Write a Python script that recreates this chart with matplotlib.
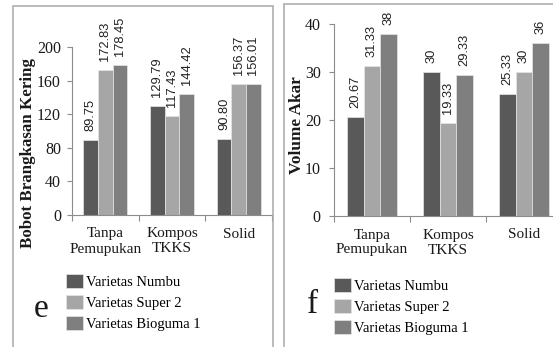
import numpy as np
import matplotlib.pyplot as plt
from matplotlib.patches import Rectangle

# Data: dry shoot weight (e) and root volume (f)
categories = ["Tanpa\nPemupukan", "Kompos\nTKKS", "Solid"]
varieties = ["Varietas Numbu", "Varietas Super 2", "Varietas Bioguma 1"]
colors = ["#595959", "#a6a6a6", "#7f7f7f"]

bobot_numbu = [89.75, 129.79, 90.80]
bobot_super2 = [172.83, 117.43, 156.37]
bobot_bioguma = [178.45, 144.42, 156.01]
bobot_labels = [["89.75", "129.79", "90.80"],
                 ["172.83", "117.43", "156.37"],
                 ["178.45", "144.42", "156.01"]]

volume_numbu = [20.67, 30, 25.33]
volume_super2 = [31.33, 19.33, 30]
volume_bioguma = [38, 29.33, 36]
volume_labels = [["20.67", "30", "25.33"],
                 ["31.33", "19.33", "30"],
                 ["38", "29.33", "36"]]

W, H = 553, 347
serif = ["Liberation Serif", "DejaVu Serif"]
sans = ["Liberation Sans", "DejaVu Sans"]

fig = plt.figure(figsize=(W / 100, H / 100), dpi=100)


def px_rect(x0, y_top, x1, y_bottom):
    # pixel box -> figure fraction [left, bottom, width, height]
    return [x0 / W, 1 - y_bottom / H, (x1 - x0) / W, (y_bottom - y_top) / H]


def draw_panel(rect, series, labels, ymax, ystep, ypad):
    ax = fig.add_axes(rect)
    x = np.arange(len(categories))
    bw = 0.22
    bars = []
    for i, (vals, lab) in enumerate(zip(series, labels)):
        b = ax.bar(x + (i - 1) * bw, vals, bw, color=colors[i],
                   edgecolor="#e6e6e6", linewidth=0.5, label=varieties[i])
        bars.append(b)
        for xi, v, t in zip(x + (i - 1) * bw, vals, lab):
            ax.annotate(t, (xi, v), xytext=(0, 6.5), textcoords="offset points",
                        rotation=90, ha="center", va="bottom",
                        fontsize=9.3, family=sans, color="#222222",
                        annotation_clip=False)
    ax.set_xlim(-0.5, len(categories) - 0.5)
    ax.set_ylim(0, ymax)
    ax.set_yticks(np.arange(0, ymax + 1, ystep))
    ax.set_xticks(x)
    ax.set_xticklabels(categories, family=serif, fontsize=11, color="#1a1a1a",
                       linespacing=1.2)
    ax.set_xticks(np.arange(-0.5, len(categories)), minor=True)
    ax.tick_params(axis="x", which="major", length=0, pad=9)
    ax.tick_params(axis="x", which="minor", length=4, color="#8c8c8c", width=0.8)
    ax.tick_params(axis="y", length=3.5, color="#8c8c8c", width=0.8, pad=ypad,
                   labelsize=11.5, labelcolor="#1a1a1a")
    for t in ax.get_yticklabels():
        t.set_family(serif)
    for s in ["top", "right"]:
        ax.spines[s].set_visible(False)
    for s in ["left", "bottom"]:
        ax.spines[s].set_color("#8c8c8c")
        ax.spines[s].set_linewidth(0.8)
    ax.patch.set_alpha(0)
    return ax, bars


ax1, bars1 = draw_panel(px_rect(72, 47, 272, 215),
                        [bobot_numbu, bobot_super2, bobot_bioguma],
                        bobot_labels, 200, 40, 4.5)
ax2, bars2 = draw_panel(px_rect(334, 24, 562, 216),
                        [volume_numbu, volume_super2, volume_bioguma],
                        volume_labels, 40, 10, 6)

# axis titles
fig.text(28 / W, 1 - 153 / H, "Bobot Brangkasan Kering", rotation=90,
         ha="center", va="center", family=serif, fontweight="bold",
         fontsize=12.2, color="#1a1a1a")
fig.text(297 / W, 1 - 125 / H, "Volume Akar", rotation=90,
         ha="center", va="center", family=serif, fontweight="bold",
         fontsize=12.4, color="#1a1a1a")

# panel letters
fig.text(41 / W, 1 - 309 / H, "e", ha="center", va="center", family=serif,
         fontsize=24, color="#1a1a1a")
fig.text(313 / W, 1 - 305 / H, "f", ha="center", va="center", family=serif,
         fontsize=24, color="#1a1a1a")

# legends
for bars, (lx, ly) in [(bars1, (66, 274)), (bars2, (334, 278))]:
    fig.legend(bars, varieties, loc="upper left",
               bbox_to_anchor=(lx / W, 1 - ly / H), frameon=False,
               prop={"family": serif, "size": 10.5}, handlelength=1.15,
               handleheight=1.1, labelspacing=0.4, handletextpad=0.2,
               borderpad=0, borderaxespad=0)

# panel frames
fig.patches.append(Rectangle((13 / W, -0.05), (273 - 13) / W, 1.05 - 6 / H,
                             transform=fig.transFigure, fill=False,
                             edgecolor="#a8a8a8", linewidth=1.1))
fig.patches.append(Rectangle((284 / W, -0.05), 0.6, 1.05 - 4 / H,
                             transform=fig.transFigure, fill=False,
                             edgecolor="#a8a8a8", linewidth=1.1))

fig.savefig("out.png", dpi=100)
